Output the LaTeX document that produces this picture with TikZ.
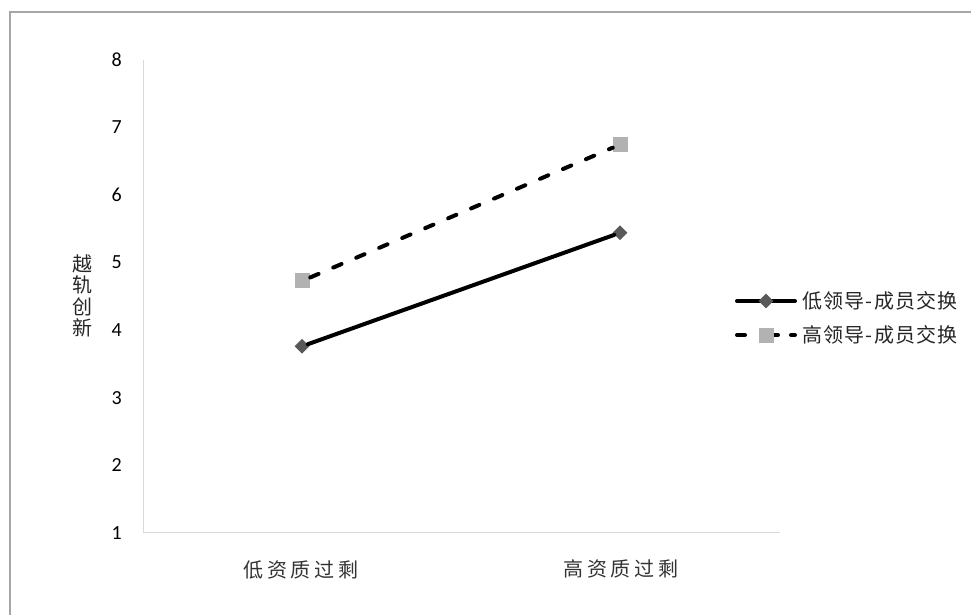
\documentclass[tikz,border=0pt]{standalone}
\usepackage{fontspec}
\setmainfont{Carlito}
\newfontfamily\cjk{Noto Sans CJK SC}
\newfontfamily\cjklegend[LetterSpace=6]{Noto Sans CJK SC}
\newfontfamily\cjkwide[LetterSpace=18]{Noto Sans CJK SC}
\usetikzlibrary{shapes.geometric}

\begin{document}
\begin{tikzpicture}[x=0.75pt,y=-0.75pt,
    every node/.style={font=\fontsize{15}{18}\selectfont},
    axisline/.style={draw=black!15,line width=0.75pt},
    lowline/.style={line width=3pt,line cap=round},
    highline/.style={line width=3pt,line cap=round,dash pattern=on 6.75pt off 12pt},
    highlegend/.style={line width=3pt,line cap=round,dash pattern=on 6pt off 18.75pt on 6pt off 9.75pt on 3pt off 10pt},
    lowmark/.style={diamond,fill=black!65,minimum size=11.25pt,inner sep=0pt},
    highmark/.style={rectangle,fill=black!30,minimum size=11.25pt,inner sep=0pt},
    ticklabel/.style={anchor=east,inner sep=0pt},
    catlabel/.style={font=\fontsize{15}{18}\selectfont\cjkwide,text=black!80},
    legendtext/.style={anchor=west,inner sep=0pt,font=\fontsize{15}{18}\selectfont\cjklegend,text=black!85}]
      \useasboundingbox (0,0) rectangle (971,615);
      \draw[black!35,line width=1.1pt] (10,615) -- (10,12) -- (971,12);
      \coordinate (origin) at (143,532.7);
      \coordinate (ytop) at (143,60);
      \coordinate (xend) at (780,532.7);
      \draw[axisline] (ytop) -- (origin) -- (xend);
      \begin{scope}[shift={(0,600.2)},y=50.65pt]
        \foreach \v in {1,...,8}
          \node[ticklabel] (tick\v) at (122,\v) {\v};
        \node[lowmark] (lowA) at (302,3.76) {};
        \node[lowmark] (lowB) at (620,5.44) {};
        \node[highmark] (highA) at (302.5,4.73) {};
        \node[highmark] (highB) at (620.5,6.75) {};
      \end{scope}
      \draw[lowline] (lowA) -- (lowB);
      \draw[highline] (highA) -- (highB);
      \node[catlabel] (catlow) at (301,570) {低资质过剩};
      \node[catlabel] (cathigh) at (621,569) {高资质过剩};
      \node[font=\fontsize{15}{16}\selectfont\cjk,align=center,text=black!85] (ylabel) at (82,296) {越\\轨\\创\\新};
      \coordinate (legA1) at (737,301);
      \coordinate (legA2) at (795,301);
      \coordinate (legB1) at (737,335);
      \coordinate (legB2) at (795,335);
      \draw[lowline] (legA1) -- (legA2);
      \draw[highlegend] (legB1) -- (legB2);
      \node[lowmark] (legmarkA) at (766,301) {};
      \node[highmark] (legmarkB) at (766,335) {};
      \node[legendtext] (legtextA) at (802,301) {低领导-成员交换};
      \node[legendtext] (legtextB) at (802,335) {高领导-成员交换};
\end{tikzpicture}
\end{document}
